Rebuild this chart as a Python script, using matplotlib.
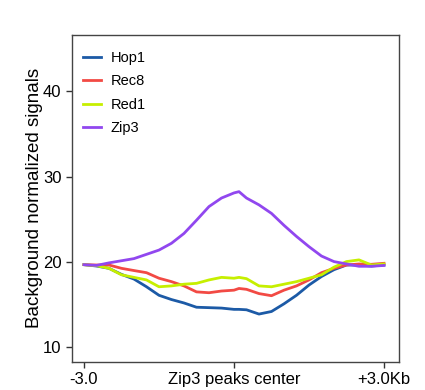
import numpy as np
import matplotlib
matplotlib.use("Agg")
import matplotlib.pyplot as plt

plt.rcParams['font.family'] = ['Liberation Sans', 'DejaVu Sans']

# distance from peak centre in kb
pos = [-3.0, -2.75, -2.5, -2.25, -2.0, -1.75, -1.5, -1.25, -1.0, -0.75, -0.5, -0.25,
       0.0, 0.1, 0.25, 0.5, 0.75, 1.0, 1.25, 1.5, 1.75, 2.0, 2.25, 2.5, 2.75, 3.0]

hop1 = [19.69, 19.53, 19.26, 18.55, 18.0, 17.1, 16.1, 15.6, 15.2, 14.7, 14.65, 14.6,
        14.45, 14.45, 14.4, 13.9, 14.2, 15.1, 16.1, 17.3, 18.3, 19.1, 19.65, 19.65, 19.53, 19.65]
rec8 = [19.69, 19.65, 19.65, 19.26, 19.0, 18.75, 18.1, 17.7, 17.2, 16.5, 16.4, 16.6,
        16.7, 16.9, 16.8, 16.3, 16.05, 16.7, 17.2, 17.9, 18.75, 19.26, 19.65, 19.77, 19.73, 19.85]
red1 = [19.69, 19.57, 19.26, 18.5, 18.2, 17.9, 17.1, 17.2, 17.4, 17.5, 17.9, 18.2,
        18.1, 18.2, 18.05, 17.2, 17.1, 17.4, 17.7, 18.1, 18.5, 19.4, 20.05, 20.25, 19.65, 19.77]
zip3 = [19.69, 19.6, 19.9, 20.15, 20.4, 20.9, 21.4, 22.2, 23.35, 24.9, 26.5, 27.5,
        28.1, 28.25, 27.5, 26.7, 25.7, 24.3, 23.0, 21.8, 20.7, 20.05, 19.77, 19.5, 19.5, 19.6]

names = ['Hop1', 'Rec8', 'Red1', 'Zip3']
colors = ['#1c5aa6', '#f24a44', '#c6ef00', '#9147ef']

fig = plt.figure(figsize=(4.25, 3.9), dpi=100)
ax = fig.add_axes([0.1694, 0.0718, 0.7694, 0.8397])

for vals, name, c in zip([hop1, rec8, red1, zip3], names, colors):
    ax.plot(pos, vals, color=c, lw=2, label=name)

ax.set_xlim(-3.24, 3.3)
ax.set_ylim(8.28, 46.67)
ax.set_yticks([10, 20, 30, 40])
ax.set_xticks([-3, 0, 3])
ax.set_xticklabels(['-3.0', 'Zip3 peaks center', '+3.0Kb'])
ax.tick_params(labelsize=12, length=4, width=1, color='#333333')
ax.set_ylabel('Background normalized signals', fontsize=13.5)
ax.yaxis.set_label_coords(-0.088, 0.5)

for s in ax.spines.values():
    s.set_color('#444444')
    s.set_linewidth(1)

ax.legend(loc='upper left', frameon=False, fontsize=10.5, handlelength=1.3,
          handletextpad=0.65, labelspacing=0.65, bbox_to_anchor=(-0.008, 0.99))

fig.savefig('out.png', dpi=100)
